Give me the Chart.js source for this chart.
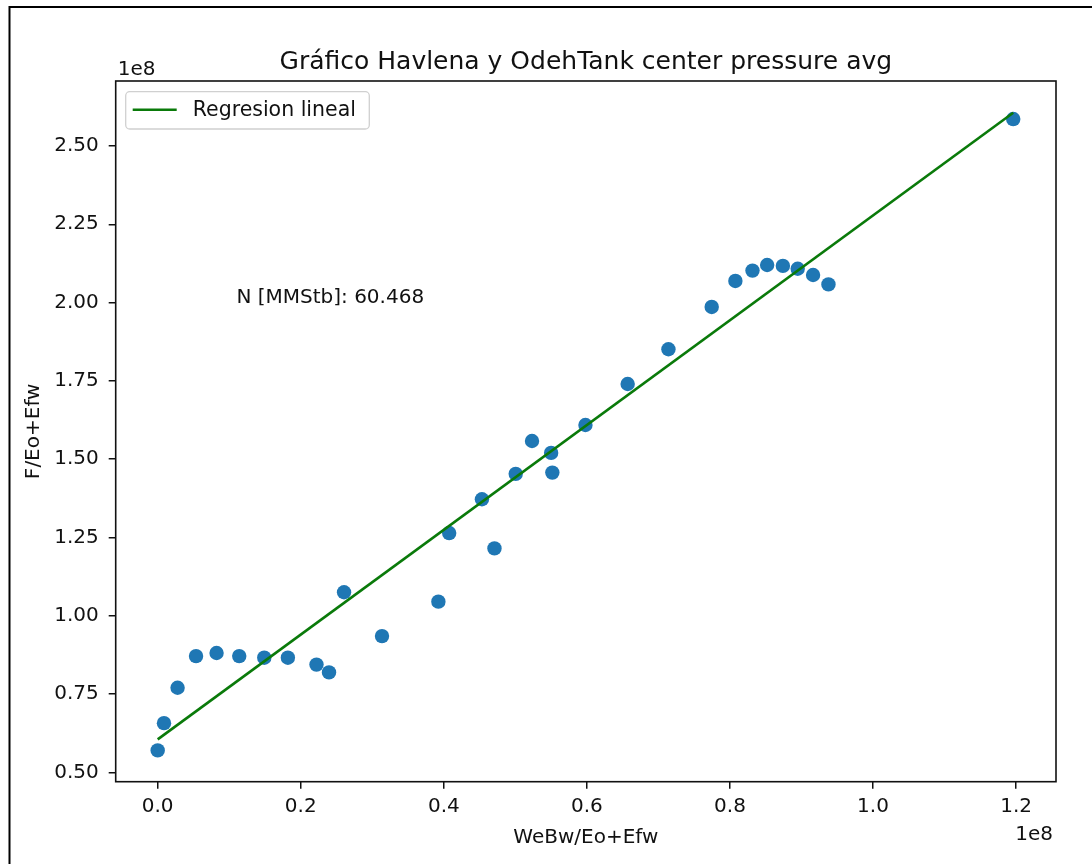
<!DOCTYPE html>
<html>
<head>
<meta charset="utf-8">
<title>Gráfico Havlena y Odeh</title>
<script src="https://cdn.jsdelivr.net/npm/chart.js@4"></script>
<style>
  html, body { margin: 0; padding: 0; background: #fff; }
  canvas { display: block; }
</style>
</head>
<body>
<canvas id="myChart" width="1092" height="864"></canvas>
<script>
// values in units of 1e8 (matplotlib offset text "1e8")
const webwX = [0.000, 0.0088, 0.0278, 0.0536, 0.0823, 0.114, 0.149, 0.182, 0.222, 0.2395,
               0.2605, 0.3136, 0.3924, 0.4075, 0.4533, 0.4708, 0.5005, 0.5233, 0.550, 0.5517,
               0.598, 0.657, 0.714, 0.7745, 0.8076, 0.8315, 0.852, 0.874, 0.8947, 0.9162,
               0.9377, 1.196];
const fEoY  = [0.570, 0.657, 0.770, 0.871, 0.881, 0.871, 0.866, 0.866, 0.844, 0.819,
               1.075, 0.935, 1.045, 1.264, 1.372, 1.215, 1.453, 1.558, 1.520, 1.457,
               1.609, 1.740, 1.851, 1.986, 2.069, 2.102, 2.120, 2.117, 2.108, 2.088,
               2.058, 2.586];

// regression line end points
const regX = [0.0, 1.196];
const regY = [0.605, 2.606];

const xTicks = [0.0, 0.2, 0.4, 0.6, 0.8, 1.0, 1.2];
const yTicks = [0.50, 0.75, 1.00, 1.25, 1.50, 1.75, 2.00, 2.25, 2.50];

const titleText = 'Gráfico Havlena y OdehTank center pressure avg';
const xLabel = 'WeBw/Eo+Efw';
const yLabel = 'F/Eo+Efw';
const legendText = 'Regresion lineal';
const noteText = 'N [MMStb]: 60.468';
const notePos = [0.11, 2.0];

const FONT = "'DejaVu Sans', sans-serif";

const scatterPts = webwX.map((x, i) => ({ x: x, y: fEoY[i] }));
const linePts = regX.map((x, i) => ({ x: x, y: regY[i] }));

// draws the matplotlib-like extras: frame, title, offset texts, labels, legend, note
const extras = {
  id: 'extras',
  beforeDraw(chart) {
    const c = chart.ctx;
    c.save();
    c.fillStyle = '#fff';
    c.fillRect(0, 0, chart.width, chart.height);
    // outer border of the screenshot (top and left only)
    c.strokeStyle = '#000';
    c.lineWidth = 2;
    c.beginPath();
    c.moveTo(9.5, chart.height);
    c.lineTo(9.5, 7);
    c.lineTo(chart.width, 7);
    c.stroke();
    c.restore();
  },
  afterDraw(chart) {
    const c = chart.ctx;
    const a = chart.chartArea;
    const xs = chart.scales.x, ys = chart.scales.y;
    c.save();
    // axes box
    c.strokeStyle = '#111';
    c.lineWidth = 1.6;
    c.strokeRect(a.left, a.top, a.right - a.left, a.bottom - a.top);

    c.fillStyle = '#111';
    c.textBaseline = 'alphabetic';
    // title
    c.font = '25px ' + FONT;
    c.textAlign = 'center';
    c.fillText(titleText, (a.left + a.right) / 2, a.top - 12);
    // offset texts
    c.font = '20px ' + FONT;
    c.textAlign = 'left';
    c.fillText('1e8', a.left + 2, a.top - 6);
    c.textAlign = 'right';
    c.fillText('1e8', a.right - 3, 840);
    // axis labels
    c.textAlign = 'center';
    c.fillText(xLabel, (a.left + a.right) / 2, 843);
    c.save();
    c.translate(39, (a.top + a.bottom) / 2);
    c.rotate(-Math.PI / 2);
    c.fillText(yLabel, 0, 0);
    c.restore();
    // note
    c.textAlign = 'left';
    c.fillText(noteText, xs.getPixelForValue(notePos[0]), ys.getPixelForValue(notePos[1]));

    // legend
    const lx = a.left + 10, ly = a.top + 10.7, lw = 243.6, lh = 37.3;
    c.beginPath();
    c.roundRect(lx, ly, lw, lh, 4);
    c.fillStyle = 'rgba(255,255,255,0.8)';
    c.fill();
    c.strokeStyle = '#d0d0d0';
    c.lineWidth = 1.3;
    c.stroke();
    c.strokeStyle = '#0a7a0a';
    c.lineWidth = 2.6;
    c.beginPath();
    c.moveTo(lx + 7, ly + 18);
    c.lineTo(lx + 51, ly + 18);
    c.stroke();
    c.fillStyle = '#111';
    c.font = '20.5px ' + FONT;
    c.textAlign = 'left';
    c.fillText(legendText, lx + 67, ly + 24.3);
    c.restore();
  }
};

const ctx = document.querySelector('#myChart');
new Chart(ctx, {
  type: 'scatter',
  data: {
    datasets: [{
      label: legendText,
      data: linePts,
      showLine: true,
      borderColor: '#0a7a0a',
      borderWidth: 2.6,
      pointRadius: 0,
      fill: false
    }, {
      label: 'datos',
      data: scatterPts,
      backgroundColor: '#1f77b4',
      borderWidth: 0,
      pointRadius: 7.2
    }]
  },
  options: {
    responsive: false,
    animation: false,
    layout: { padding: { top: 81, right: 36, left: 0, bottom: 0 } },
    plugins: {
      legend: { display: false },
      title: { display: false },
      tooltip: { enabled: false }
    },
    scales: {
      x: {
        type: 'linear',
        min: -0.0587,
        max: 1.2558,
        afterBuildTicks: s => { s.ticks = xTicks.map(v => ({ value: v })); },
        afterFit: s => { s.height = 82.3; },
        ticks: {
          callback: v => v.toFixed(1),
          font: { family: FONT, size: 20 },
          color: '#111',
          padding: 6,
          maxRotation: 0,
          autoSkip: false
        },
        grid: { drawOnChartArea: false, drawTicks: true, tickLength: 7, color: '#111', lineWidth: 1.5 },
        border: { display: false }
      },
      y: {
        type: 'linear',
        min: 0.470,
        max: 2.7075,
        afterBuildTicks: s => { s.ticks = yTicks.map(v => ({ value: v })); },
        afterFit: s => { s.width = 115.7; },
        ticks: {
          callback: v => v.toFixed(2),
          font: { family: FONT, size: 20 },
          color: '#111',
          padding: 10,
          autoSkip: false
        },
        grid: { drawOnChartArea: false, drawTicks: true, tickLength: 7, color: '#111', lineWidth: 1.5 },
        border: { display: false }
      }
    }
  },
  plugins: [extras]
});
</script>
</body>
</html>
